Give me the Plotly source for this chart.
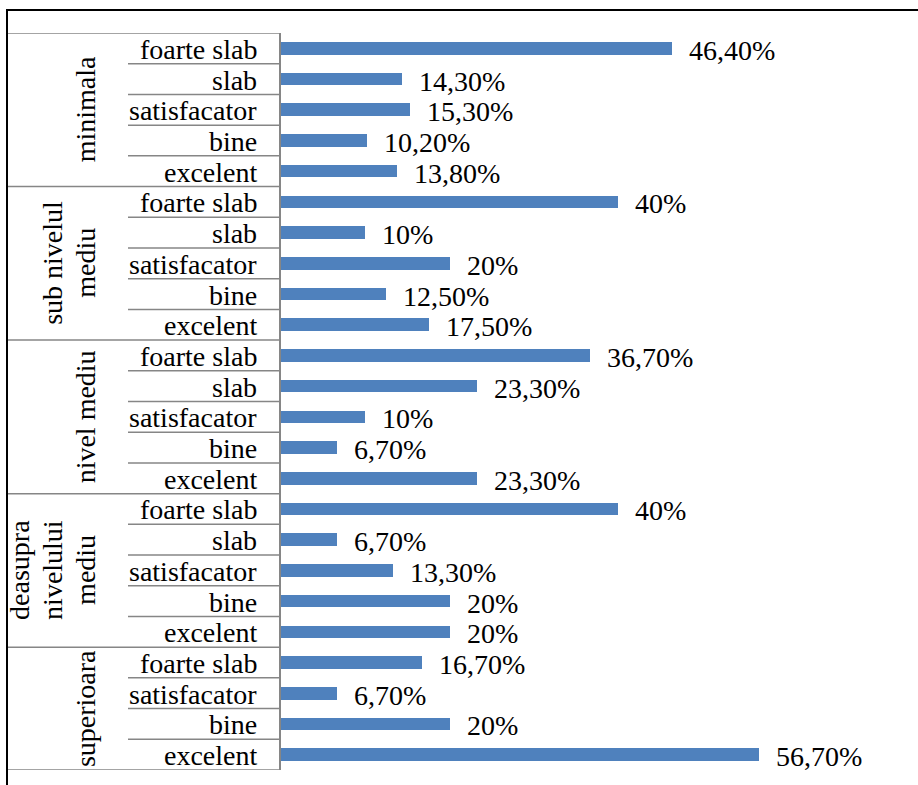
import plotly.graph_objects as go

# Survey results: share of answers per rating, grouped by level
groups = ["minimala", "sub nivelul<br>mediu", "nivel mediu", "deasupra<br>nivelului<br>mediu", "superioara"]
cats_minimala = ["foarte slab", "slab", "satisfacator", "bine", "excelent"]
vals_minimala = [46.4, 14.3, 15.3, 10.2, 13.8]
cats_sub = ["foarte slab", "slab", "satisfacator", "bine", "excelent"]
vals_sub = [40, 10, 20, 12.5, 17.5]
cats_mediu = ["foarte slab", "slab", "satisfacator", "bine", "excelent"]
vals_mediu = [36.7, 23.3, 10, 6.7, 23.3]
cats_deasupra = ["foarte slab", "slab", "satisfacator", "bine", "excelent"]
vals_deasupra = [40, 6.7, 13.3, 20, 20]
cats_superioara = ["foarte slab", "satisfacator", "bine", "excelent"]
vals_superioara = [16.7, 6.7, 20, 56.7]

group_cats = [cats_minimala, cats_sub, cats_mediu, cats_deasupra, cats_superioara]
group_vals = [vals_minimala, vals_sub, vals_mediu, vals_deasupra, vals_superioara]

categories = [c for g in group_cats for c in g]
values = [v for g in group_vals for v in g]
rows = list(range(len(categories)))


def pct(v):
    if float(v).is_integer():
        return f"{int(v)}%"
    return f"{v:.2f}".replace(".", ",") + "%"


# page geometry (pixels)
W, H = 918, 785
ML, MR, MT, MB = 281, 131, 33, 15
PW, PH = W - ML - MR, H - MT - MB


def px_x(p):
    return (p - ML) / PW


def px_y(p):
    return (H - MB - p) / PH


FONT = "Liberation Serif"
FS = 28
GRID = "#868686"
GROUP_RIGHT = 103     # right edge of the last line of a rotated group label
GROUP_LINE_GAP = 33   # spacing between lines of a rotated group label

fig = go.Figure(
    go.Bar(
        x=values,
        y=rows,
        orientation="h",
        width=0.41,
        marker=dict(color="#4F81BD", line=dict(width=0)),
        hoverinfo="skip",
    )
)

annotations = []
shapes = []

# value labels next to bar ends
for r, v in zip(rows, values):
    annotations.append(dict(
        x=v, y=r, xref="x", yref="y", text=pct(v), showarrow=False,
        xanchor="left", yanchor="middle", xshift=15, yshift=-2,
        font=dict(family=FONT, size=FS, color="#000000"),
    ))

# category labels
for r, c in zip(rows, categories):
    annotations.append(dict(
        x=0, y=r, xref="paper", yref="y", text=c, showarrow=False,
        xanchor="right", yanchor="middle", xshift=-22, yshift=-1,
        font=dict(family=FONT, size=FS, color="#000000"),
    ))

# group labels and separators
start = 0
for g, cats in zip(groups, group_cats):
    n = len(cats)
    mid = start + (n - 1) / 2
    lines = g.split("<br>")
    for i, line in enumerate(lines):
        offset = (len(lines) - 1 - i) * GROUP_LINE_GAP
        annotations.append(dict(
            x=px_x(GROUP_RIGHT - offset), y=mid, xref="paper", yref="y",
            text=line, showarrow=False,
            textangle=-90, xanchor="right", yanchor="middle",
            font=dict(family=FONT, size=FS, color="#000000"),
        ))
    # full-width line at the top of each group
    shapes.append(dict(type="line", xref="paper", yref="y",
                       x0=px_x(7), x1=0, y0=start - 0.5, y1=start - 0.5,
                       line=dict(color=GRID, width=1.5)))
    # short lines between categories inside a group
    for k in range(1, n):
        shapes.append(dict(type="line", xref="paper", yref="y",
                           x0=px_x(128), x1=0, y0=start + k - 0.5, y1=start + k - 0.5,
                           line=dict(color=GRID, width=1.5)))
    start += n

shapes.append(dict(type="line", xref="paper", yref="y",
                   x0=px_x(7), x1=0, y0=start - 0.5, y1=start - 0.5,
                   line=dict(color=GRID, width=1.5)))

# chart frame
shapes.append(dict(type="rect", xref="paper", yref="paper",
                   x0=px_x(7), x1=px_x(W + 20), y0=px_y(H + 20), y1=px_y(10),
                   line=dict(color="#000000", width=2), fillcolor="rgba(0,0,0,0)"))

fig.update_layout(
    width=W, height=H,
    margin=dict(l=ML, r=MR, t=MT, b=MB, pad=0),
    paper_bgcolor="white", plot_bgcolor="white",
    showlegend=False,
    bargap=0,
    font=dict(family=FONT),
    xaxis=dict(range=[0, PW / 8.43], visible=False, fixedrange=True),
    yaxis=dict(range=[len(rows) - 0.5, -0.5], showticklabels=False, ticks="",
               showgrid=False, zeroline=False, showline=True,
               linecolor=GRID, linewidth=1.5, fixedrange=True),
    annotations=annotations,
    shapes=shapes,
)

fig.write_html("out.html")
